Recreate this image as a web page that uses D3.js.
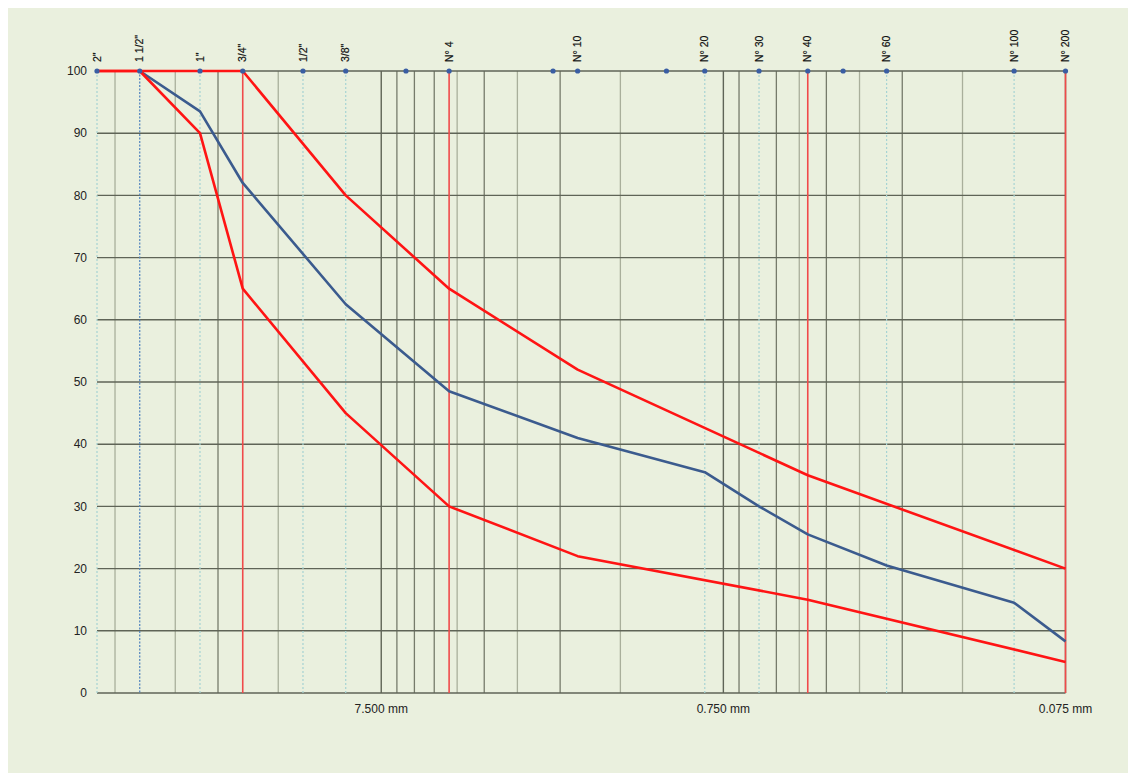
<!DOCTYPE html>
<html>
<head>
<meta charset="utf-8">
<script src="https://cdn.jsdelivr.net/npm/d3@7"></script>
<style>
  html, body { margin: 0; padding: 0; background: #ffffff; }
  svg { display: block; font-family: "Liberation Sans", Arial, sans-serif; }
</style>
</head>
<body>
<svg id="chart"></svg>
<script>
// sieve openings (mm) and their labels along the top
const sieveSizes  = [50.8, 38.1, 25.4, 19.05, 12.7, 9.525, 6.35, 4.75, 2.36, 2.0, 1.1, 0.85, 0.59, 0.425, 0.335, 0.25, 0.106, 0.075];
const sieveLabels = ['2"\u00a0\u00a0', '1 1/2"', '1"', '3/4"', '1/2"', '3/8"', '', 'N° 4', '', 'N° 10', '', 'N° 20', 'N° 30', 'N° 40', '', 'N° 60', 'N° 100\u00a0\u00a0', 'N° 200\u00a0\u00a0'];

// which sieves get a vertical marker line
const redSieves    = ['3/4"', 'N° 4', 'N° 40', 'N° 200\u00a0\u00a0'];
const dottedSieves = ['2"\u00a0\u00a0', '1"', '1/2"', '3/8"', 'N° 20', 'N° 30', 'N° 60', 'N° 100\u00a0\u00a0'];
const blueSieves   = ['1 1/2"'];

// upper and lower specification limits
const upperSizes  = [50.8, 38.1, 25.4, 19.05, 9.525, 4.75, 2.0, 0.425, 0.075];
const upperValues = [100, 100, 100, 100, 80, 65, 52, 35, 20];
const lowerSizes  = [50.8, 38.1, 25.4, 19.05, 9.525, 4.75, 2.0, 0.425, 0.075];
const lowerValues = [100, 100, 90, 65, 45, 30, 22, 15, 5];

// measured gradation
const sampleSizes  = [38.1, 25.4, 19.05, 9.525, 4.75, 2.0, 0.85, 0.59, 0.425, 0.25, 0.106, 0.075];
const sampleValues = [100, 93.5, 82, 62.5, 48.5, 41, 35.5, 30, 25.5, 20.5, 14.5, 8.3];

// bottom axis labels
const majorSizes  = [7.5, 0.75, 0.075];
const majorLabels = ["7.500 mm", "0.750 mm", "0.075 mm"];
const yTicks = [0, 10, 20, 30, 40, 50, 60, 70, 80, 90, 100];

const W = 1136, H = 781;
const plotLeft = 97, plotRight = 1065.5, plotTop = 71, plotBottom = 693;

const svg = d3.select("#chart").attr("width", W).attr("height", H);

// panel background
svg.append("rect")
    .attr("x", 8).attr("y", 8)
    .attr("width", W - 16).attr("height", H - 16)
    .attr("fill", "#eaf0de");

const x = d3.scaleLog().domain([50.8, 0.075]).range([plotLeft, plotRight]);
const y = d3.scaleLinear().domain([0, 100]).range([plotBottom, plotTop]);

const sieves = sieveSizes.map((s, i) => ({ size: s, label: sieveLabels[i] }));
const markedX = sieves
    .filter(s => redSieves.includes(s.label) || blueSieves.includes(s.label) || dottedSieves.includes(s.label))
    .map(s => x(s.size));

// minor log gridlines (2..9 times each decade), major at decade starts
const gridG = svg.append("g");
majorSizes.forEach(base => {
    d3.range(2, 10).forEach(k => {
        const v = base * k;
        if (v > 50.8) return;
        if (markedX.some(mx => Math.abs(mx - x(v)) < 3)) return; // hidden under a sieve line
        gridG.append("line")
            .attr("x1", x(v)).attr("x2", x(v))
            .attr("y1", plotTop).attr("y2", plotBottom)
            .attr("stroke", [2, 4, 6].includes(k) ? "#a9af9b" : "#767b6b")
            .attr("stroke-width", 1.3);
    });
    gridG.append("line")
        .attr("x1", x(base)).attr("x2", x(base))
        .attr("y1", plotTop).attr("y2", plotBottom)
        .attr("stroke", "#5f6457")
        .attr("stroke-width", 1.4);
});

// horizontal gridlines
gridG.selectAll(".hgrid")
    .data(yTicks)
    .join("line")
    .attr("class", "hgrid")
    .attr("x1", plotLeft).attr("x2", plotRight)
    .attr("y1", d => y(d)).attr("y2", d => y(d))
    .attr("stroke", "#5f6457")
    .attr("stroke-width", 1.4);

// sieve marker lines
const markG = svg.append("g");
sieves.forEach(s => {
    let stroke = null, dash = null, width = 1;
    if (redSieves.includes(s.label)) { stroke = "#f04a4a"; width = 1.6; }
    else if (blueSieves.includes(s.label)) { stroke = "#4f82bd"; dash = "2,1.5"; width = 1.2; }
    else if (dottedSieves.includes(s.label)) { stroke = "#a6d3d3"; dash = "2,2"; width = 1.2; }
    if (!stroke) return;
    markG.append("line")
        .attr("x1", x(s.size)).attr("x2", x(s.size))
        .attr("y1", plotTop).attr("y2", plotBottom)
        .attr("stroke", stroke)
        .attr("stroke-width", width)
        .attr("stroke-dasharray", dash);
});

// curves
const line = d3.line()
    .x(d => x(d[0]))
    .y(d => y(d[1]));

svg.append("path")
    .datum(sampleSizes.map((s, i) => [s, sampleValues[i]]))
    .attr("d", line)
    .attr("fill", "none")
    .attr("stroke", "#3b5b8e")
    .attr("stroke-width", 2.6)
    .attr("stroke-linejoin", "round");

[[upperSizes, upperValues], [lowerSizes, lowerValues]].forEach(([sz, vals]) => {
    svg.append("path")
        .datum(sz.map((s, i) => [s, vals[i]]))
        .attr("d", line)
        .attr("fill", "none")
        .attr("stroke", "#ff1414")
        .attr("stroke-width", 2.6)
        .attr("stroke-linejoin", "round");
});

// markers along the 100 line
svg.append("g")
    .selectAll("circle")
    .data(sieves)
    .join("circle")
    .attr("cx", d => x(d.size))
    .attr("cy", y(100))
    .attr("r", 2.6)
    .attr("fill", "#3a5ea3");

// sieve labels (rotated)
svg.append("g")
    .selectAll("text")
    .data(sieves.filter(d => d.label !== ""))
    .join("text")
    .attr("transform", d => `translate(${x(d.size)},62) rotate(-90)`)
    .attr("dy", "0.35em")
    .attr("text-anchor", "start")
    .attr("font-size", 10.5)
    .attr("fill", "#111")
    .attr("stroke", "#111")
    .attr("stroke-width", 0.2)
    .text(d => d.label);

// y axis labels
svg.append("g")
    .selectAll("text")
    .data(yTicks)
    .join("text")
    .attr("x", 87)
    .attr("y", d => y(d))
    .attr("dy", "0.35em")
    .attr("text-anchor", "end")
    .attr("font-size", 12)
    .attr("fill", "#222")
    .text(d => d);

// bottom axis labels
svg.append("g")
    .selectAll("text")
    .data(majorSizes)
    .join("text")
    .attr("x", d => x(d))
    .attr("y", 713)
    .attr("text-anchor", "middle")
    .attr("font-size", 12)
    .attr("fill", "#222")
    .text((d, i) => majorLabels[i]);
</script>
</body>
</html>
